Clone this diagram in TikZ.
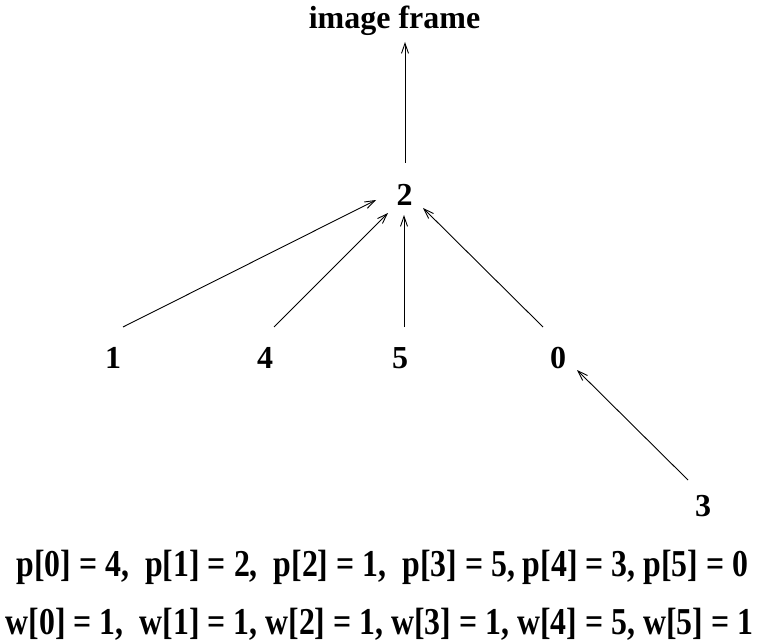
\documentclass[tikz,border=0pt]{standalone}
\usepackage{fontspec}
\setmainfont{Liberation Serif}
\usetikzlibrary{arrows.meta}
\tikzset{
  lbl/.style={font=\fontsize{32}{32}\selectfont\bfseries, inner sep=0pt, anchor=base},
  eqline/.style={font=\fontsize{38}{38}\selectfont\bfseries, inner sep=0pt, anchor=base},
  link/.style={line width=0.9pt, -{Straight Barb[length=10pt,width=7pt,line width=0.9pt]}},
}
\begin{document}
\begin{tikzpicture}[x=1pt,y=-1pt]
  \useasboundingbox (0,0) rectangle (759,644);
  % tree nodes
  \node[lbl] (frame) at (394.5,29) {image frame};
  \node[lbl] (n2) at (404.5,205) {2};
  \node[lbl] (n1) at (113,368) {1};
  \node[lbl] (n4) at (265,368) {4};
  \node[lbl] (n5) at (400,368) {5};
  \node[lbl] (n0) at (558,368) {0};
  \node[lbl] (n3) at (703,516) {3};
  % connector end points
  \coordinate (f2) at (405,163);
  \coordinate (f2t) at (405,42);
  \coordinate (s1) at (123,327);
  \coordinate (e1) at (376,200);
  \coordinate (s4) at (274,327);
  \coordinate (e4) at (388,213);
  \coordinate (s5) at (404,327);
  \coordinate (e5) at (404,215);
  \coordinate (s0) at (543,327);
  \coordinate (e0) at (423,208);
  \coordinate (s3) at (688,480);
  \coordinate (e3) at (577,370);
  \draw[link] (f2) -- (f2t);
  \draw[link] (s1) -- (e1);
  \draw[link] (s4) -- (e4);
  \draw[link] (s5) -- (e5);
  \draw[link] (s0) -- (e0);
  \draw[link] (s3) -- (e3);
  % arrays
  \node[eqline] (pline) at (382.5,576) {\scalebox{0.837}[1]{p[0] = 4,\ \ p[1] = 2,\ \ p[2] = 1,\ \ p[3] = 5, p[4] = 3, p[5] = 0}};
  \node[eqline] (wline) at (379.5,634) {\scalebox{0.837}[1]{w[0] = 1,\ \ w[1] = 1, w[2] = 1, w[3] = 1, w[4] = 5, w[5] = 1}};
\end{tikzpicture}
\end{document}
